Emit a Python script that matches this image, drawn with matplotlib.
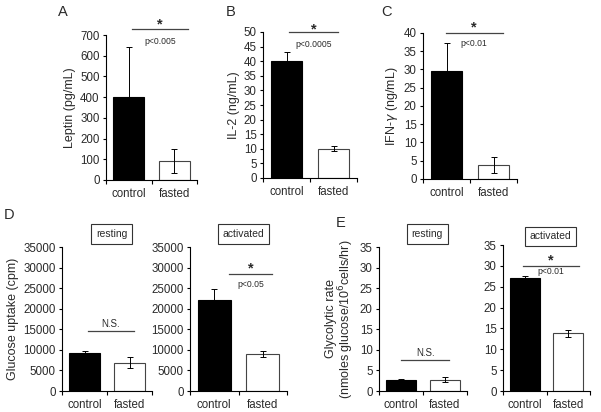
import numpy as np
import matplotlib
matplotlib.use("Agg")
import matplotlib.pyplot as plt

plt.rcParams['font.family'] = ['Liberation Sans', 'DejaVu Sans']

groups = ["control", "fasted"]

# panel A-C: cytokines
leptin = [400, 92]
leptin_err = [240, 58]
il2 = [40, 10]
il2_err = [3.2, 0.8]
ifng = [29.5, 3.8]
ifng_err = [7.7, 2.1]

# panel D: glucose uptake (cpm)
uptake_rest = [9300, 6900]
uptake_rest_err = [500, 1400]
uptake_act = [22000, 9000]
uptake_act_err = [2800, 750]

# panel E: glycolytic rate
glyco_rest = [2.6, 2.7]
glyco_rest_err = [0.2, 0.6]
glyco_act = [27, 13.8]
glyco_act_err = [0.5, 0.8]

TXT = '#2a2a2a'
FS = 8.3
W, H = 601, 412
fig = plt.figure(figsize=(W / 100, H / 100), dpi=100)


def box(l, r, t, b):
    return [l / W, 1 - b / H, (r - l) / W, (b - t) / H]


def panel(rect, vals, errs, ymax, ystep, ylabel=None):
    ax = fig.add_axes(rect)
    x = np.array([0.5, 1.5])
    ax.bar(x, vals, width=0.68, color=['black', 'white'],
           edgecolor=['black', '#444444'], linewidth=0.8, zorder=2)
    ax.errorbar(x, vals, yerr=errs, fmt='none', ecolor='black',
                elinewidth=0.7, capsize=2.5, capthick=0.7, zorder=3)
    ax.set_xlim(0, 2)
    ax.set_ylim(0, ymax)
    ax.set_yticks(np.arange(0, ymax + ystep / 2, ystep))
    ax.set_xticks([0, 1, 2])
    ax.set_xticklabels([])
    ax.set_xticks(x, minor=True)
    ax.set_xticklabels(groups, minor=True)
    ax.tick_params(axis='x', which='minor', length=0, pad=6,
                   labelsize=FS, labelcolor=TXT)
    ax.tick_params(axis='x', which='major', length=3, width=0.8, direction='out')
    ax.tick_params(axis='y', length=2.5, width=0.8, labelsize=FS,
                   labelcolor=TXT, pad=2)
    for s in ['top', 'right']:
        ax.spines[s].set_visible(False)
    for s in ['left', 'bottom']:
        ax.spines[s].set_linewidth(0.8)
    if ylabel:
        ax.set_ylabel(ylabel, fontsize=9, color=TXT, labelpad=3)
    return ax


def sig(ax, x0, x1, y, star_y=None, ptxt=None, p_y=None, pfs=6.2):
    ax.plot([x0, x1], [y, y], color='#444444', lw=0.9, clip_on=False)
    if star_y is not None:
        ax.text((x0 + x1) / 2, star_y, '*', ha='center', va='center',
                fontsize=10.5, fontweight='bold', color=TXT, clip_on=False)
    if ptxt:
        ax.text((x0 + x1) / 2, p_y, ptxt, ha='center', va='center',
                fontsize=pfs, color=TXT, clip_on=False)


def title_box(ax, name, y=1.09):
    ax.text(0.55, y, name, transform=ax.transAxes, ha='center', va='center',
            fontsize=7.5, color=TXT,
            bbox=dict(boxstyle='square,pad=0.45', fc='white', ec='#333333', lw=0.8))


# A
axA = panel(box(106, 197, 35, 180), leptin, leptin_err, 700, 100, 'Leptin (pg/mL)')
sig(axA, 0.57, 1.81, 730, 750, 'p<0.005', 670)
fig.text(58 / W, 1 - 12 / H, 'A', fontsize=10.5, color=TXT, va='center')

# B
axB = panel(box(263, 357, 32, 178), il2, il2_err, 50, 5, 'IL-2 (ng/mL)')
sig(axB, 0.55, 1.6, 50, 51, 'p<0.0005', 45.7)
fig.text(226 / W, 1 - 12 / H, 'B', fontsize=10.5, color=TXT, va='center')

# C
axC = panel(box(423, 517, 33, 179), ifng, ifng_err, 40, 5, 'IFN-$\\gamma$ (ng/mL)')
sig(axC, 0.48, 1.7, 40, 41.5, 'p<0.01', 37.2)
fig.text(381 / W, 1 - 12 / H, 'C', fontsize=10.5, color=TXT, va='center')

# D
axD1 = panel(box(62, 152, 247, 391), uptake_rest, uptake_rest_err, 35000, 5000,
             'Glucose uptake (cpm)')
sig(axD1, 0.57, 1.6, 14500, None, 'N.S.', 16300, pfs=7)
axD2 = panel(box(190, 287, 247, 391), uptake_act, uptake_act_err, 35000, 5000)
sig(axD2, 0.8, 1.7, 28500, 29800, 'p<0.05', 26000)
fig.text(4 / W, 1 - 215 / H, 'D', fontsize=10.5, color=TXT, va='center')
title_box(axD1, 'resting')
title_box(axD2, 'activated')

# E
axE1 = panel(box(379, 467, 247, 391), glyco_rest, glyco_rest_err, 35, 5,
             'Glycolytic rate\n(nmoles glucose/10$^6$cells/hr)')
axE1.yaxis.label.set_linespacing(0.95)
sig(axE1, 0.5, 1.6, 7.5, None, 'N.S.', 9.3, pfs=7)
axE2 = panel(box(503, 590, 245, 391), glyco_act, glyco_act_err, 35, 5)
sig(axE2, 0.45, 1.75, 30, 31.4, 'p<0.01', 28.6)
fig.text(336 / W, 1 - 223 / H, 'E', fontsize=10.5, color=TXT, va='center')
title_box(axE1, 'resting')
title_box(axE2, 'activated', y=1.06)

fig.savefig('out.png', dpi=100)
